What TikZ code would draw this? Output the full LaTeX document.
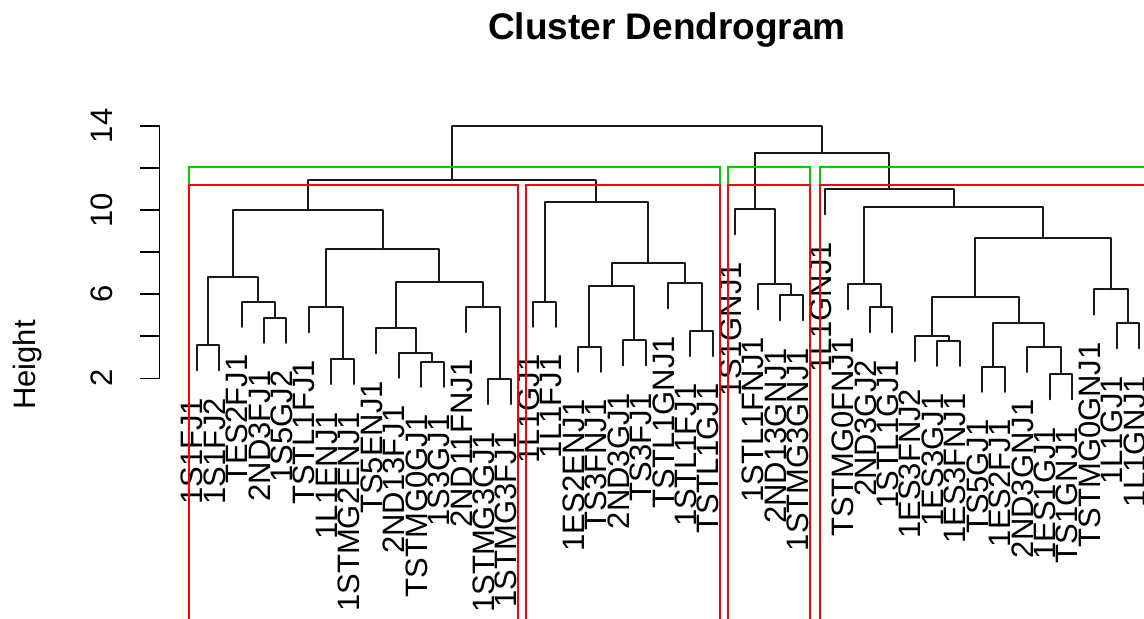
\documentclass[tikz,border=0pt]{standalone}
\usepackage{fontspec}
\setmainfont{Liberation Sans}
\usetikzlibrary{calc}

\definecolor{cutred}{HTML}{FF0000}
\definecolor{cutgreen}{HTML}{00CD00}

\tikzset{
  branch/.style={line width=2pt, draw=black!90, line cap=round, line join=round},
  leaflab/.style={rotate=90, anchor=base east, inner sep=0pt, font=\fontsize{31}{31}\selectfont},
  axlab/.style={rotate=90, anchor=base, inner sep=0pt, font=\fontsize{31}{31}\selectfont},
  cutbox/.style={line width=2pt},
}

% one merge of the tree: name, left child, right child, height
\newcommand{\dmerge}[4]{%
  \path ($(#2)!.5!(#3)$) coordinate (#1x);
  \coordinate (#1) at (#1x |- 0,#4);
  \draw[branch] (#2) |- (#1) -| (#3);}

\begin{document}
\begin{tikzpicture}[x=22.443pt, y=21.03pt]
\useasboundingbox (-7.765,-9.398) rectangle (43.209,19.989);
\clip (-7.765,-9.398) rectangle (43.209,19.989);

% title and axis
\node[font=\bfseries\fontsize{37}{37}\selectfont, anchor=base] (title) at (21.955,18.09) {Cluster Dendrogram};
\node[axlab] (ylab) at (-6.205,2.63) {Height};
\draw[line width=1.5pt] (-0.658,2) -- (-0.658,14);
\foreach \h in {2,4,...,14}
  \draw[line width=1.5pt] (-0.658,\h) -- ++(-19.5pt,0);
\foreach \h in {2,6,10,14}
  \node[axlab] (tick\h) at ([xshift=-46.5pt]-0.658,\h) {\h};

% leaves: index / height of parent / label
\foreach \i/\p/\lab in {1/3.58/1S1FJ1, 2/3.58/1S1FJ2, 3/5.64/TES2FJ1,
    4/4.88/2ND3FJ1, 5/4.88/1S5GJ2, 6/5.38/TSTL1FJ1, 7/2.92/1L1ENJ1,
    8/2.92/1STMG2ENJ1, 9/4.38/TS5ENJ1, 10/3.22/2ND13FJ1, 11/2.79/TSTMG0GJ1,
    12/2.79/1S3GJ1, 13/5.40/2ND11FNJ1, 14/1.97/1STMG3GJ1, 15/1.97/1STMG3FJ1,
    16/5.64/1L1GJ1, 17/5.64/1L1FJ1, 18/3.50/1ES2ENJ1, 19/3.50/TS3FNJ1,
    20/3.82/2ND3GJ1, 21/3.82/TS3FJ1, 22/6.52/TSTL1GNJ1, 23/4.26/1STL1FJ1,
    24/4.26/TSTL1GJ1, 25/10.04/1S1GNJ1, 26/6.48/1STL1FNJ1, 27/5.96/2ND13GNJ1,
    28/5.96/1STMG3GNJ1, 29/11.00/1L1GNJ1, 30/6.48/TSTMG0FNJ1, 31/5.38/2ND3GJ2,
    32/5.38/1STL1GJ1, 33/4.02/1ES3FNJ2, 34/3.79/1ES3GJ1, 35/3.79/1ES3FNJ1,
    36/2.55/TS5GJ1, 37/2.55/1ES2FJ1, 38/3.50/2ND3GNJ1, 39/2.20/1ES1GJ1,
    40/2.20/TS1GNJ1, 41/6.23/TSTMG0GNJ1, 42/4.62/1L1GJ1, 43/4.62/1L1GNJ1} {
  \coordinate (l\i) at (\i,\p-1.2);
  \node[leaflab] (n\i) at ([shift={(6pt,-27.5pt)}]l\i) {\lab};
}

% first group
\dmerge{a1}{l1}{l2}{3.58}
\dmerge{a2}{l4}{l5}{4.88}
\dmerge{a3}{l3}{a2}{5.64}
\dmerge{a4}{a1}{a3}{6.80}
\dmerge{a5}{l7}{l8}{2.92}
\dmerge{a6}{l6}{a5}{5.38}
\dmerge{a7}{l11}{l12}{2.79}
\dmerge{a8}{l10}{a7}{3.22}
\dmerge{a9}{l9}{a8}{4.38}
\dmerge{a10}{l14}{l15}{1.97}
\dmerge{a11}{l13}{a10}{5.40}
\dmerge{a12}{a9}{a11}{6.60}
\dmerge{a13}{a6}{a12}{8.13}
\dmerge{a14}{a4}{a13}{10.00}

% second group
\dmerge{b1}{l16}{l17}{5.64}
\dmerge{b2}{l18}{l19}{3.50}
\dmerge{b3}{l20}{l21}{3.82}
\dmerge{b4}{b2}{b3}{6.39}
\dmerge{b5}{l23}{l24}{4.26}
\dmerge{b6}{l22}{b5}{6.52}
\dmerge{b7}{b4}{b6}{7.47}
\dmerge{b8}{b1}{b7}{10.38}
\dmerge{c1}{a14}{b8}{11.43}

% third group
\dmerge{d1}{l27}{l28}{5.96}
\dmerge{d2}{l26}{d1}{6.48}
\dmerge{d3}{l25}{d2}{10.04}

% fourth group
\dmerge{e1}{l31}{l32}{5.38}
\dmerge{e2}{l30}{e1}{6.48}
\dmerge{e3}{l34}{l35}{3.79}
\dmerge{e4}{l33}{e3}{4.02}
\dmerge{e5}{l36}{l37}{2.55}
\dmerge{e6}{l39}{l40}{2.20}
\dmerge{e7}{l38}{e6}{3.50}
\dmerge{e8}{e5}{e7}{4.62}
\dmerge{e9}{e4}{e8}{5.87}
\dmerge{e10}{l42}{l43}{4.62}
\dmerge{e11}{l41}{e10}{6.23}
\dmerge{e12}{e9}{e11}{8.69}
\dmerge{e13}{e2}{e12}{10.16}
\dmerge{e14}{l29}{e13}{11.00}
\dmerge{f1}{d3}{e14}{12.70}
\dmerge{root}{c1}{f1}{14.01}

% cut boxes, k = 3 then k = 4
\draw[cutbox, cutgreen] (0.66,-10) rectangle (24.33,12.065);
\draw[cutbox, cutgreen] (24.66,-10) rectangle (28.33,12.065);
\draw[cutbox, cutgreen] (28.75,-10) rectangle (43.33,12.065);
\draw[cutbox, cutred] (0.66,-10) rectangle (15.33,11.215);
\draw[cutbox, cutred] (15.66,-10) rectangle (24.33,11.215);
\draw[cutbox, cutred] (24.66,-10) rectangle (28.33,11.215);
\draw[cutbox, cutred] (28.75,-10) rectangle (43.33,11.215);
\end{tikzpicture}
\end{document}
